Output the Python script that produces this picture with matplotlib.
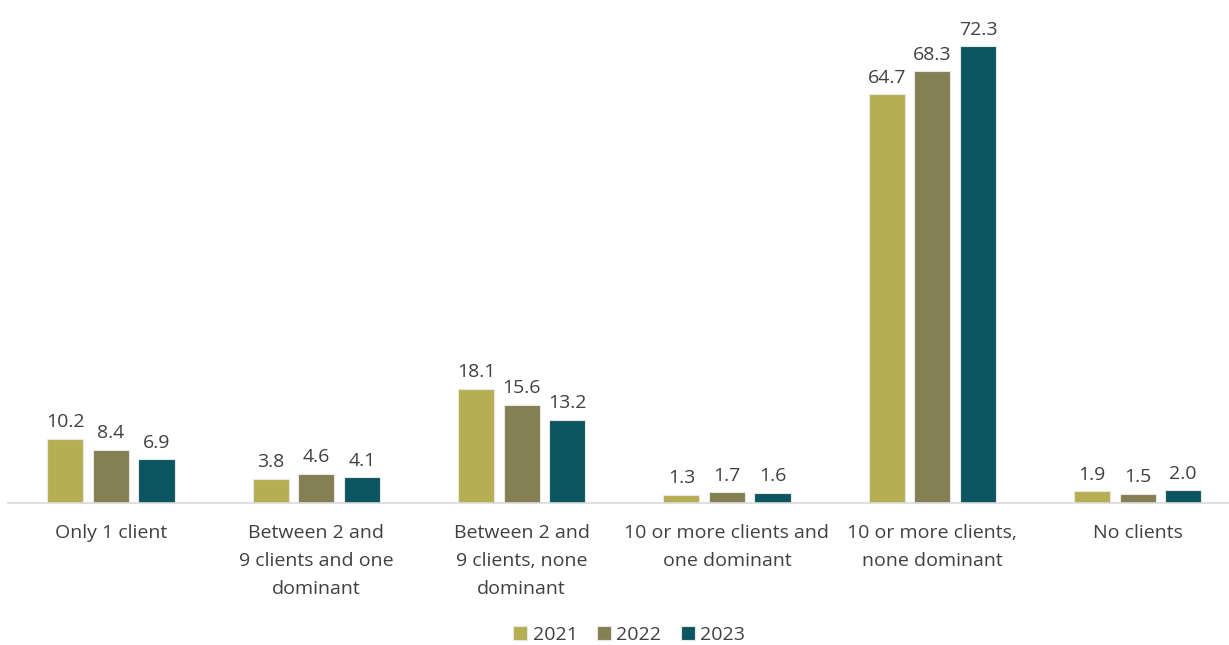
import numpy as np
import matplotlib.pyplot as plt

categories = ["Only 1 client", "Between 2 and\n9 clients and one\ndominant",
              "Between 2 and\n9 clients, none\ndominant", "10 or more clients and\none dominant",
              "10 or more clients,\nnone dominant", "No clients"]
years = ["2021", "2022", "2023"]
v2021 = [10.2, 3.8, 18.1, 1.3, 64.7, 1.9]
v2022 = [8.4, 4.6, 15.6, 1.7, 68.3, 1.5]
v2023 = [6.9, 4.1, 13.2, 1.6, 72.3, 2.0]

colors = ["#B5AE53", "#847F55", "#0B5561"]
text_color = "#404040"

plt.rcParams['font.family'] = ['Open Sans', 'DejaVu Sans']

fig = plt.figure(figsize=(12.29, 6.45), dpi=100)
ax = fig.add_axes([0.0067, 0.22, 1.0025, 0.78])

x = np.arange(len(categories))
width = 0.176
pitch = 0.222
for i, (vals, yr) in enumerate(zip([v2021, v2022, v2023], years)):
    pos = x + (i - 1) * pitch
    bars = ax.bar(pos, vals, width, color=colors[i], label=yr,
                  edgecolor="#E8E8E0", linewidth=0.8)
    for b, v in zip(bars, vals):
        ax.text(b.get_x() + b.get_width() / 2, v + 1.2, f"{v:.1f}",
                ha="center", va="bottom", fontsize=14, color=text_color)

ax.set_xlim(-0.5, len(categories) - 0.5)
ax.set_ylim(0, 79.6)
ax.set_xticks(x)
ax.set_xticklabels(categories, fontsize=14, color=text_color, linespacing=1.7, va="top")
ax.tick_params(axis="x", length=0, pad=15)
ax.set_yticks([])
for s in ["top", "right", "left"]:
    ax.spines[s].set_visible(False)
ax.spines["bottom"].set_color("#D9D9D9")
ax.spines["bottom"].set_linewidth(1.2)

fig.legend(loc="lower center", bbox_to_anchor=(0.512, -0.025), ncol=3, frameon=False,
           fontsize=14, handlelength=0.7, handleheight=0.7, handletextpad=0.3,
           columnspacing=1.0, labelcolor=text_color)

fig.savefig("out.png", dpi=100)
